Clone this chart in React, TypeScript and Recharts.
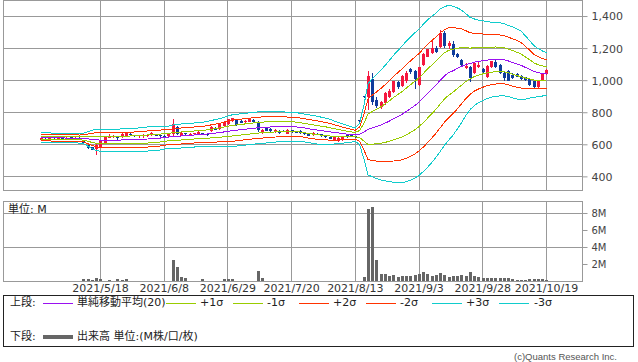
import { ComposedChart, Bar, Line, XAxis, YAxis, CartesianGrid } from 'recharts';

const dates = [
  '2021/4/22', '2021/4/23', '2021/4/26', '2021/4/27', '2021/4/28', '2021/4/30', '2021/5/6', '2021/5/7', '2021/5/10', '2021/5/11',
  '2021/5/12', '2021/5/13', '2021/5/14', '2021/5/17', '2021/5/18', '2021/5/19', '2021/5/20', '2021/5/21', '2021/5/24', '2021/5/25',
  '2021/5/26', '2021/5/27', '2021/5/28', '2021/5/31', '2021/6/1', '2021/6/2', '2021/6/3', '2021/6/4', '2021/6/7', '2021/6/8',
  '2021/6/9', '2021/6/10', '2021/6/11', '2021/6/14', '2021/6/15', '2021/6/16', '2021/6/17', '2021/6/18', '2021/6/21', '2021/6/22',
  '2021/6/23', '2021/6/24', '2021/6/25', '2021/6/28', '2021/6/29', '2021/6/30', '2021/7/1', '2021/7/2', '2021/7/5', '2021/7/6',
  '2021/7/7', '2021/7/8', '2021/7/9', '2021/7/12', '2021/7/13', '2021/7/14', '2021/7/15', '2021/7/16', '2021/7/19', '2021/7/20',
  '2021/7/21', '2021/7/26', '2021/7/27', '2021/7/28', '2021/7/29', '2021/7/30', '2021/8/2', '2021/8/3', '2021/8/4', '2021/8/5',
  '2021/8/6', '2021/8/10', '2021/8/11', '2021/8/12', '2021/8/13', '2021/8/16', '2021/8/17', '2021/8/18', '2021/8/19', '2021/8/20',
  '2021/8/23', '2021/8/24', '2021/8/25', '2021/8/26', '2021/8/27', '2021/8/30', '2021/8/31', '2021/9/1', '2021/9/2', '2021/9/3',
  '2021/9/6', '2021/9/7', '2021/9/8', '2021/9/9', '2021/9/10', '2021/9/13', '2021/9/14', '2021/9/15', '2021/9/16', '2021/9/17',
  '2021/9/21', '2021/9/22', '2021/9/24', '2021/9/27', '2021/9/28', '2021/9/29', '2021/9/30', '2021/10/1', '2021/10/4', '2021/10/5',
  '2021/10/6', '2021/10/7', '2021/10/8', '2021/10/11', '2021/10/12', '2021/10/13', '2021/10/14', '2021/10/15', '2021/10/18', '2021/10/19',
];

const tickDates = ['2021/5/18', '2021/6/8', '2021/6/29', '2021/7/20', '2021/8/13', '2021/9/3', '2021/9/28', '2021/10/19'];
const priceTicks = [400, 600, 800, 1000, 1200, 1400];
const volumeTicks = [2, 4, 6, 8];

const open = [
  630, 648, 638, 648, 640, 647, 638, 646, 640, 644,
  630, 598, 585, 575, 585, 610, 645, 648, 655, 648,
  658, 670, 660, 652, 652, 654, 660, 668, 660, 658,
  652, 665, 712, 655, 672, 664, 665, 668, 672, 668,
  685, 705, 698, 720, 728, 748, 752, 750, 742, 744,
  755, 745, 674, 705, 700, 680, 688, 688, 670, 690,
  680, 688, 676, 672, 660, 668, 665, 656, 650, 630,
  622, 628, 662, 660, 652, 752, 902, 900, 1010, 880,
  835, 858, 900, 930, 990, 968, 995, 1072, 1060, 970,
  1095, 1150, 1170, 1205, 1210, 1300, 1215, 1230, 1165, 1130,
  1080, 1085, 1045, 1085, 1075, 1022, 1085, 1115, 1100, 1050,
  1060, 1035, 1040, 1030, 1020, 1010, 995, 958, 1000, 1040,
];

const high = [
  643, 652, 650, 651, 649, 650, 648, 649, 648, 648,
  632, 600, 588, 602, 628, 654, 665, 660, 658, 672,
  680, 674, 662, 664, 670, 668, 678, 670, 663, 660,
  676, 760, 716, 680, 676, 675, 676, 690, 676, 672,
  716, 710, 736, 749, 764, 770, 756, 754, 752, 762,
  760, 748, 696, 708, 704, 698, 692, 692, 696, 694,
  684, 692, 680, 676, 678, 672, 668, 660, 654, 652,
  648, 652, 666, 664, 655, 755, 905, 1060, 1050, 900,
  875, 930, 945, 1000, 995, 1035, 1058, 1082, 1065, 1088,
  1170, 1200, 1250, 1215, 1315, 1310, 1250, 1250, 1170, 1135,
  1112, 1090, 1115, 1122, 1080, 1098, 1125, 1138, 1105, 1055,
  1065, 1045, 1045, 1035, 1025, 1013, 1000, 1002, 1045, 1070,
];

const low = [
  627, 636, 635, 638, 636, 635, 634, 636, 636, 632,
  605, 574, 565, 535, 580, 605, 640, 645, 628, 645,
  655, 656, 646, 645, 645, 648, 656, 652, 648, 644,
  650, 655, 662, 652, 660, 660, 661, 664, 660, 655,
  680, 690, 694, 715, 724, 742, 718, 733, 736, 740,
  738, 682, 668, 684, 680, 676, 668, 678, 666, 676,
  672, 668, 664, 654, 656, 660, 648, 644, 634, 626,
  618, 624, 642, 646, 645, 745, 895, 815, 850, 830,
  825, 850, 890, 925, 945, 960, 985, 1040, 950, 965,
  1090, 1145, 1165, 1175, 1205, 1205, 1200, 1150, 1140, 1090,
  1070, 990, 1040, 1080, 1050, 1015, 1080, 1080, 1040, 1000,
  995, 1010, 1020, 1005, 998, 968, 955, 952, 995, 1035,
];

const close = [
  640, 640, 646, 642, 645, 638, 645, 640, 644, 636,
  610, 578, 570, 598, 625, 650, 652, 655, 640, 668,
  676, 660, 657, 660, 662, 660, 674, 655, 652, 648,
  672, 730, 668, 675, 666, 670, 672, 678, 664, 660,
  712, 695, 732, 745, 760, 765, 722, 738, 746, 758,
  742, 692, 692, 688, 684, 695, 672, 682, 692, 680,
  677, 672, 668, 658, 675, 664, 652, 648, 638, 648,
  645, 648, 646, 650, 648, 748, 898, 1030, 870, 845,
  865, 925, 935, 995, 962, 1030, 1050, 1055, 1010, 1083,
  1165, 1195, 1205, 1180, 1300, 1215, 1235, 1160, 1145, 1098,
  1090, 1015, 1110, 1100, 1055, 1093, 1120, 1085, 1045, 1015,
  1000, 1015, 1025, 1012, 1002, 972, 960, 998, 1040, 1065,
];

// 単純移動平均(20)
const sma20 = [
  644, 644, 644, 643, 643, 643, 642, 642, 642, 641,
  640, 637, 634, 631, 629, 629, 629, 629, 629, 630,
  630, 631, 632, 633, 634, 636, 638, 640, 642, 645,
  648, 651, 653, 655, 657, 659, 661, 663, 665, 667,
  670, 673, 676, 680, 684, 688, 691, 694, 697, 700,
  703, 706, 708, 710, 711, 712, 713, 713, 713, 713,
  712, 709, 705, 700, 696, 692, 688, 685, 681, 677,
  674, 670, 667, 665, 663, 667, 679, 697, 706, 714,
  723, 735, 748, 763, 776, 790, 808, 826, 845, 866,
  892, 919, 946, 972, 1003, 1030, 1050, 1062, 1076, 1089,
  1100, 1107, 1115, 1120, 1125, 1128, 1131, 1133, 1133, 1130,
  1123, 1114, 1105, 1096, 1083, 1071, 1058, 1050, 1045, 1042,
];

// band width (1σ)
const sigma = [
  10, 10, 10, 10, 10, 10, 10, 10, 10, 10,
  11, 15, 19, 22, 23, 23, 23, 23, 23, 23,
  23, 24, 24, 24, 25, 25, 25, 25, 25, 24,
  23, 24, 25, 25, 25, 25, 25, 25, 25, 26,
  27, 28, 29, 30, 32, 33, 33, 33, 33, 33,
  33, 33, 33, 33, 32, 32, 31, 31, 30, 30,
  30, 29, 29, 29, 29, 29, 28, 27, 26, 24,
  22, 20, 18, 16, 14, 22, 55, 95, 102, 108,
  114, 120, 126, 132, 137, 142, 146, 149, 151, 152,
  153, 153, 152, 150, 148, 144, 140, 134, 126, 117,
  106, 96, 90, 86, 83, 80, 78, 77, 76, 75,
  74, 74, 73, 71, 66, 60, 54, 50, 47, 44,
];

// 出来高 (M)
const volume = [
  0.08, 0.06, 0.1, 0.07, 0.08, 0.06, 0.09, 0.07, 0.08, 0.1,
  0.25, 0.25, 0.12, 0.4, 0.25, 0.1, 0.12, 0.1, 0.25, 0.12,
  0.25, 0.1, 0.08, 0.1, 0.09, 0.08, 0.1, 0.08, 0.09, 0.1,
  0.1, 2.5, 1.7, 0.55, 0.4, 0.1, 0.08, 0.1, 0.25, 0.1,
  0.1, 0.09, 0.1, 0.25, 0.25, 0.25, 0.1, 0.08, 0.1, 0.09,
  0.1, 1.2, 0.4, 0.1, 0.08, 0.1, 0.09, 0.08, 0.1, 0.08,
  0.09, 0.1, 0.08, 0.09, 0.1, 0.08, 0.09, 0.08, 0.1, 0.09,
  0.08, 0.1, 0.09, 0.08, 0.1, 0.1, 0.55, 8.5, 8.8, 2.5,
  0.86, 0.86, 0.63, 0.75, 0.5, 0.63, 0.63, 0.63, 0.75, 0.86,
  1.13, 0.86, 0.63, 0.75, 1.0, 0.75, 0.5, 0.63, 0.63, 0.75,
  0.63, 1.13, 0.63, 0.5, 0.4, 0.4, 0.4, 0.4, 0.4, 0.4,
  0.4, 0.3, 0.2, 0.15, 0.15, 0.3, 0.3, 0.3, 0.3, 0.15,
];

const UP = '#f5173f';
const DOWN = '#0f3c9c';
const SMA = '#9a11f0';
const S1 = '#99cc00';
const S2 = '#ff3300';
const S3 = '#11cccc';
const GRID = '#999999';
const FONT = "'DejaVu Sans', 'Noto Sans CJK JP', sans-serif";

const rows = dates.map((date, i) => ({
  date,
  open: open[i],
  high: high[i],
  low: low[i],
  close: close[i],
  sma: sma20[i],
  p1: sma20[i] + sigma[i],
  m1: sma20[i] - sigma[i],
  p2: sma20[i] + 2 * sigma[i],
  m2: sma20[i] - 2 * sigma[i],
  p3: sma20[i] + 3 * sigma[i],
  m3: sma20[i] - 3 * sigma[i],
  vol: volume[i],
}));

const xPad = { left: 35.4, right: 33.9 };

// bar spans low..high, open/close are placed on the same linear scale
const Candle = (props: any) => {
  const { x, y, width, height, payload } = props;
  const { open: o, close: c, high: h, low: l } = payload;
  const color = c >= o ? UP : DOWN;
  const px = (v: number) => y + ((h - v) / (h - l)) * height;
  const cx = x + width / 2;
  const top = px(Math.max(o, c));
  const bottom = px(Math.min(o, c));
  return (
    <g shapeRendering="crispEdges">
      <rect x={cx - 0.5} y={y} width={1} height={height} fill={color} />
      <rect x={x} y={top} width={width} height={Math.max(bottom - top, 1)} fill={color} />
    </g>
  );
};

const bandLine = (key: string, color: string) => (
  <Line
    key={key}
    dataKey={key}
    stroke={color}
    strokeWidth={1}
    dot={false}
    activeDot={false}
    shapeRendering="crispEdges"
    isAnimationActive={false}
  />
);

const axisTick = { fontSize: 11, fill: '#444', fontFamily: FONT };

const Box = ({ left, top, width, height, color = GRID }: any) => (
  <div
    style={{
      position: 'absolute', left, top, width, height,
      border: `1px solid ${color}`, boxSizing: 'border-box', pointerEvents: 'none',
    }}
  />
);

const Label = ({ x, y, children, size = 11 }: any) => (
  <span
    style={{
      position: 'absolute', left: x, top: y - 7, fontSize: size, lineHeight: '14px',
      whiteSpace: 'nowrap', color: '#222', fontFamily: FONT,
    }}
  >
    {children}
  </span>
);

const Swatch = ({ x, y, color, w = 30, h = 1 }: any) => (
  <div style={{ position: 'absolute', left: x, top: y - h / 2, width: w, height: h, background: color }} />
);

const upperLegend = [
  { x: 166, color: S1, text: '+1σ', tx: 200 },
  { x: 233, color: S1, text: '-1σ', tx: 267 },
  { x: 299, color: S2, text: '+2σ', tx: 333 },
  { x: 366, color: S2, text: '-2σ', tx: 400 },
  { x: 432, color: S3, text: '+3σ', tx: 466 },
  { x: 499, color: S3, text: '-3σ', tx: 534 },
];

export default function App() {
  return (
    <div style={{ position: 'absolute', left: 0, top: 0, width: 638, height: 362, background: '#fff', fontFamily: FONT }}>
      <div style={{ position: 'absolute', left: 0, top: 0 }}>
        <ComposedChart width={638} height={191} data={rows} margin={{ top: 0.5, right: 0, bottom: 0.5, left: 3.5 }}>
          <CartesianGrid stroke={GRID} shapeRendering="crispEdges" />
          <XAxis dataKey="date" hide ticks={tickDates} interval={0} padding={xPad} />
          <YAxis
            orientation="right"
            width={55.5}
            domain={[315, 1500]}
            allowDataOverflow
            ticks={priceTicks}
            tickFormatter={(v: number) => v.toLocaleString('en-US')}
            axisLine={false}
            tickLine={{ stroke: GRID }}
            tickSize={5}
            tickMargin={4}
            tick={axisTick}
          />
          {bandLine('p3', S3)}
          {bandLine('m3', S3)}
          {bandLine('p2', S2)}
          {bandLine('m2', S2)}
          {bandLine('p1', S1)}
          {bandLine('m1', S1)}
          {bandLine('sma', SMA)}
          <Bar dataKey={(d: any) => [d.low, d.high]} barSize={3} shape={Candle} isAnimationActive={false} />
        </ComposedChart>
      </div>
      <Box left={3} top={0} width={580} height={191} />

      <div style={{ position: 'absolute', left: 0, top: 200 }}>
        <ComposedChart width={638} height={102} data={rows} margin={{ top: 1.5, right: 0, bottom: 0.5, left: 3.5 }}>
          <CartesianGrid stroke={GRID} shapeRendering="crispEdges" />
          <XAxis
            dataKey="date"
            ticks={tickDates}
            interval={0}
            padding={xPad}
            axisLine={false}
            tickLine={false}
            tickSize={0}
            tickMargin={3}
            height={20}
            tick={{ fontSize: 11, fill: '#333', fontFamily: FONT }}
          />
          <YAxis
            orientation="right"
            width={55.5}
            domain={[0, 9.41]}
            allowDataOverflow
            ticks={volumeTicks}
            tickFormatter={(v: number) => `${v}M`}
            axisLine={false}
            tickLine={{ stroke: GRID }}
            tickSize={5}
            tickMargin={4}
            tick={{ fontSize: 10, fill: '#444', fontFamily: FONT }}
          />
          <Bar dataKey="vol" fill="#666666" barSize={3} shapeRendering="crispEdges" isAnimationActive={false} />
        </ComposedChart>
      </div>
      <Box left={3} top={201} width={580} height={81} />
      <Label x={8} y={210}>単位: M</Label>

      <Box left={3} top={295} width={631} height={52} color="#222" />
      <Label x={10} y={303}>上段:</Label>
      <Swatch x={43} y={303} color={SMA} />
      <Label x={77} y={303}>単純移動平均(20)</Label>
      {upperLegend.map((item) => (
        <span key={item.text}>
          <Swatch x={item.x} y={303} color={item.color} />
          <Label x={item.tx} y={303}>{item.text}</Label>
        </span>
      ))}
      <Label x={10} y={337}>下段:</Label>
      <Swatch x={43} y={337} color="#666666" h={4} />
      <Label x={77} y={337}>出来高 単位:(M株/口/枚)</Label>

      <span
        style={{
          position: 'absolute', right: 21, top: 350, fontSize: 9.5, lineHeight: '13px',
          color: '#555', fontFamily: "'Liberation Sans', Arial, sans-serif", whiteSpace: 'nowrap',
        }}
      >
        (c)Quants Research Inc.
      </span>
    </div>
  );
}
